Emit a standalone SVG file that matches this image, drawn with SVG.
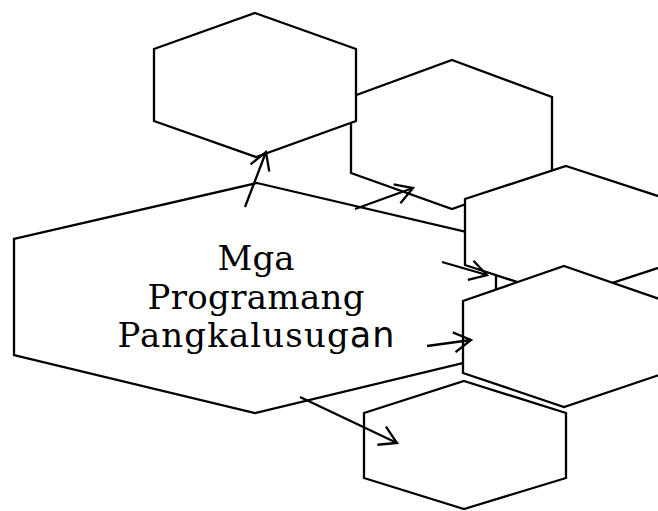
<svg xmlns="http://www.w3.org/2000/svg" width="658" height="511" viewBox="0 0 658 511">
<style>
.hex{fill:#fff;stroke:#000;stroke-width:2.3;stroke-linejoin:miter}
.conn{fill:none;stroke:#000;stroke-width:2.3}
.lbl{font-family:"DejaVu Serif","Liberation Serif",serif;font-size:34px;fill:#000;text-anchor:middle}
.sans{font-family:"DejaVu Sans","Liberation Sans",sans-serif;font-size:35px}
</style>
<defs>
<marker id="arr" markerUnits="userSpaceOnUse" markerWidth="40" markerHeight="40" refX="20" refY="20" orient="auto" overflow="visible">
<path d="M3,10 L20,20 L3,30" fill="none" stroke="#000" stroke-width="2.3"/>
</marker>
</defs>
<rect width="658" height="511" fill="#fff"/>
<g id="node-h2"><polygon class="hex" points="452,60 552,97 552,173 452,209 351,173 351,97"/></g>
<g id="node-h1"><polygon class="hex" points="255,13 356,49 356,121 256,157 154,121 154,49"/></g>
<g id="node-main">
<polygon class="hex" points="257,183 496,239 496,355 255,413 14,355 14,239"/>
<text class="lbl" x="256" y="270">Mga</text>
<text class="lbl" x="256" y="309" textLength="217" lengthAdjust="spacing">Programang</text>
<text class="lbl" x="256" y="347" textLength="277" lengthAdjust="spacing">Pangkalusug<tspan class="sans">an</tspan></text>
</g>
<g id="node-h3"><polygon class="hex" points="566,166 667,199 667,265 566,298 465,265 465,199"/></g>
<g id="node-h4"><polygon class="hex" points="564,266 665,301 665,373 564,407 463,373 463,301"/></g>
<g id="node-h5"><polygon class="hex" points="464,381 566,413 566,478 464,509 364,478 364,413"/></g>
<g id="connectors">
<line class="conn" x1="245" y1="207" x2="266" y2="152" marker-end="url(#arr)"/>
<line class="conn" x1="355" y1="209" x2="413" y2="188" marker-end="url(#arr)"/>
<line class="conn" x1="442" y1="262" x2="487" y2="275" marker-end="url(#arr)"/>
<line class="conn" x1="427" y1="346" x2="471" y2="340" marker-end="url(#arr)"/>
<line class="conn" x1="300" y1="397" x2="397" y2="443" marker-end="url(#arr)"/>
</g>
</svg>
